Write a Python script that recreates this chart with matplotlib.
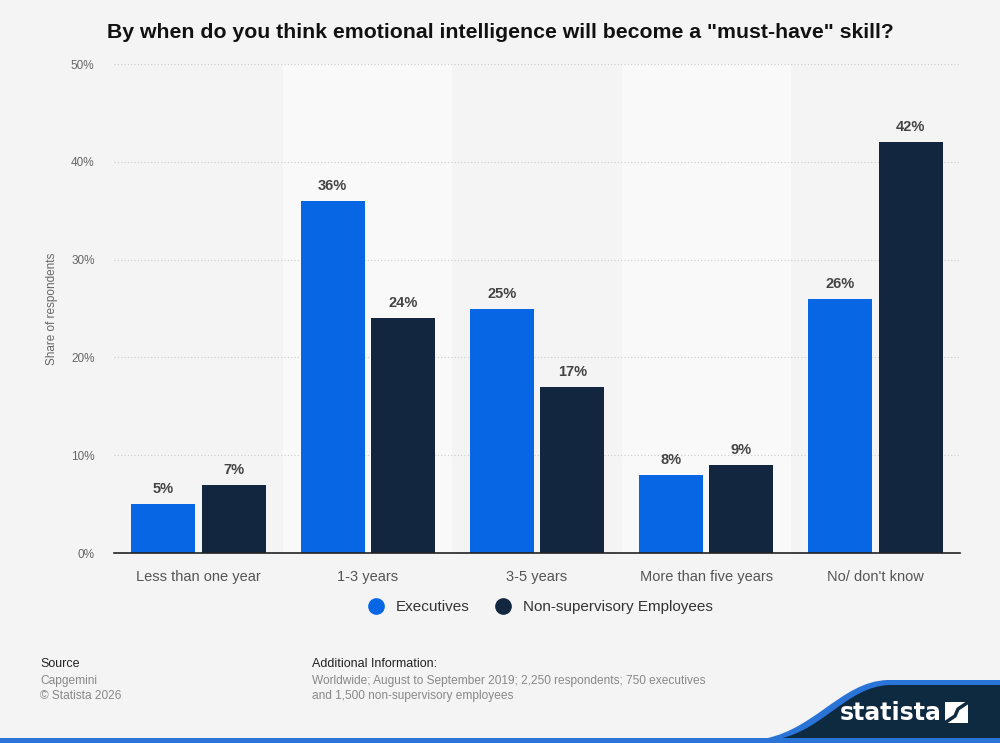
import matplotlib
matplotlib.use("Agg")
import matplotlib.pyplot as plt
import matplotlib.patches as patches
from matplotlib.path import Path
import numpy as np

plt.rcParams['font.family'] = ['Liberation Sans', 'DejaVu Sans']

categories = ["Less than one year", "1-3 years", "3-5 years", "More than five years", "No/ don't know"]
executives = [5, 36, 25, 8, 26]
employees = [7, 24, 17, 9, 42]
series_names = ["Executives", "Non-supervisory Employees"]
yticks = [0, 10, 20, 30, 40, 50]

blue = "#0766e4"
navy = "#12263f"
bg = "#f4f4f4"

fig = plt.figure(figsize=(10, 7.43), dpi=100)
fig.patch.set_facecolor(bg)

# plot area in pixels: x 114..960, y 64..553
ax = fig.add_axes([114/1000, 1 - 553/743, 846/1000, 489/743])
ax.set_facecolor(bg)

x = np.arange(len(categories))
# alternating bands
for i in x:
    if i % 2 == 1:
        ax.axvspan(i - 0.5, i + 0.5, color="#f9f9f9", zorder=0, lw=0)

w = 0.378
off = 0.208
b1 = ax.bar(x - off, executives, w, color=blue, zorder=3, label=series_names[0])
b2 = ax.bar(x + off, employees, w, color=navy, zorder=3, label=series_names[1])

for bars, vals in ((b1, executives), (b2, employees)):
    for r, v in zip(bars, vals):
        ax.text(r.get_x() + r.get_width()/2, v + 0.8, f"{v}%", ha="center", va="bottom",
                fontsize=10.5, fontweight="bold", color="#444444", zorder=4)

ax.set_xlim(-0.5, len(categories) - 0.5)
ax.set_ylim(0, 50)
ax.set_yticks(yticks)
ax.set_yticklabels([f"{t}%" for t in yticks], fontsize=8.5, color="#666666")
ax.set_xticks(x)
ax.set_xticklabels(categories, fontsize=10.5, color="#555555")
ax.tick_params(axis="both", length=0)
ax.tick_params(axis="x", pad=12)
ax.tick_params(axis="y", pad=14)
ax.yaxis.grid(True, color="#cccccc", linestyle=(0, (1, 2)), linewidth=0.8, zorder=1)
ax.set_axisbelow(False)
for s in ("top", "right", "left"):
    ax.spines[s].set_visible(False)
ax.spines["bottom"].set_color("#222222")
ax.spines["bottom"].set_linewidth(1.2)
ax.spines["bottom"].set_zorder(5)
ax.set_ylabel("Share of respondents", fontsize=8.5, color="#666666", labelpad=9)

leg = ax.legend(handles=[
    plt.Line2D([], [], marker="o", ls="", color=blue, markersize=11),
    plt.Line2D([], [], marker="o", ls="", color=navy, markersize=11)],
    labels=series_names, loc="center", bbox_to_anchor=(0.5, 1 - (607 - 64) / 489),
    bbox_transform=ax.transAxes, ncol=2, frameon=False, fontsize=11,
    handletextpad=0.3, columnspacing=1.2, labelcolor="#333333")

fig.text(0.5, 1 - 33/743, 'By when do you think emotional intelligence will become a "must-have" skill?',
         ha="center", va="center", fontsize=15.3, fontweight="bold", color="#111111")

# footer
fig.text(40/1000, 1 - 664/743, "Source", fontsize=9, color="#222222", va="center")
fig.text(40/1000, 1 - 681/743, "Capgemini", fontsize=8.6, color="#888888", va="center")
fig.text(40/1000, 1 - 696/743, "\u00a9 Statista 2026", fontsize=8.6, color="#888888", va="center")
fig.text(312/1000, 1 - 664/743, "Additional Information:", fontsize=9, color="#222222", va="center")
fig.text(312/1000, 1 - 681/743, "Worldwide; August to September 2019; 2,250 respondents; 750 executives",
         fontsize=8.6, color="#888888", va="center")
fig.text(312/1000, 1 - 696/743, "and 1,500 non-supervisory employees",
         fontsize=8.6, color="#888888", va="center")

# logo overlay
lax = fig.add_axes([0, 0, 1, 1], zorder=-1)
lax.set_xlim(0, 1000)
lax.set_ylim(743, 0)
lax.axis("off")
lax.patch.set_alpha(0)

codes = [Path.MOVETO, Path.CURVE4, Path.CURVE4, Path.CURVE4, Path.LINETO, Path.LINETO, Path.CLOSEPOLY]
verts = [(770, 740), (820, 736), (845, 686), (890, 685), (1000, 685), (1000, 740), (770, 740)]
edge = [(755, 740), (812, 735), (840, 681), (888, 680), (1000, 680), (1000, 740), (755, 740)]
lax.add_patch(patches.PathPatch(Path(edge, codes), facecolor="#2a74d8", lw=0))
lax.add_patch(patches.PathPatch(Path(verts, codes), facecolor="#0e2a40", lw=0))
lax.add_patch(patches.Rectangle((0, 738), 1000, 5, facecolor="#2a74d8", lw=0))

lax.text(891, 713, "statista", ha="center", va="center", color="white", fontsize=17,
         fontweight="bold", family="DejaVu Sans Condensed")
lax.add_patch(patches.Rectangle((945, 702), 23, 21, facecolor="white", lw=0))
lax.plot([946, 955, 958, 967], [722, 716, 709, 703], color="#0e2a40", lw=2.5)

fig.savefig("out.png", dpi=100, facecolor=bg)
